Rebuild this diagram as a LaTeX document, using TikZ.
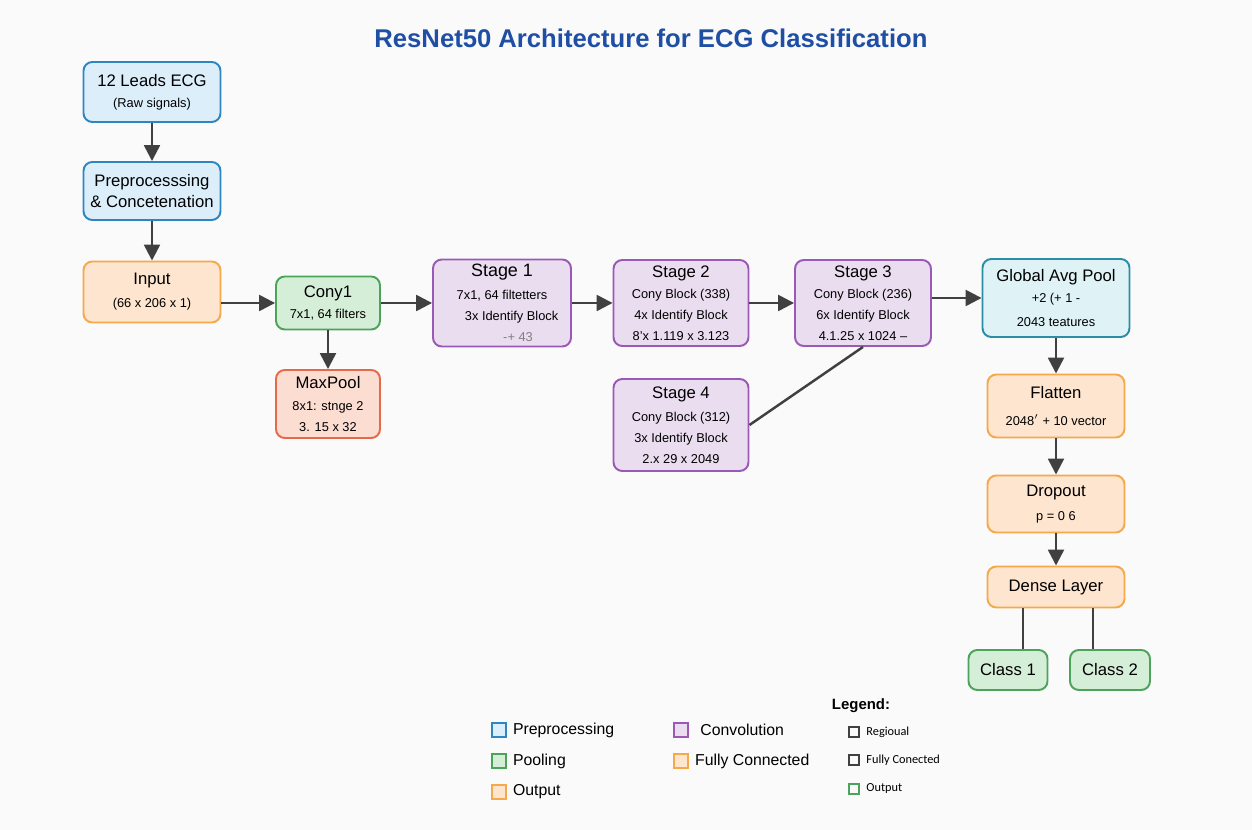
\documentclass[tikz,border=0pt]{standalone}
\usepackage{fontspec}
\setmainfont{Liberation Sans}
\newfontfamily\legfont{Carlito}
\usepackage{tikz}
\usetikzlibrary{arrows.meta, positioning}

\definecolor{prepfill}{HTML}{DDEEFB}
\definecolor{prepline}{HTML}{2E86C1}
\definecolor{outfill}{HTML}{FDE5CF}
\definecolor{outline}{HTML}{F5A94A}
\definecolor{poolfill}{HTML}{D5EED8}
\definecolor{poolline}{HTML}{4CA35A}
\definecolor{maxfill}{HTML}{FCDDD2}
\definecolor{maxline}{HTML}{E8694A}
\definecolor{convfill}{HTML}{EADDF0}
\definecolor{convline}{HTML}{9B59B6}
\definecolor{gapfill}{HTML}{DFF2F5}
\definecolor{gapline}{HTML}{2C8EA5}
\definecolor{titleblue}{HTML}{1F4FA5}
\definecolor{arrowgray}{HTML}{404040}
\definecolor{bgcol}{HTML}{FAFAFA}

\newcommand{\bigtxt}{\fontsize{9.5}{11.5}\selectfont}
\newcommand{\smalltxt}{\fontsize{7.3}{8.6}\selectfont}

\begin{document}
\begin{tikzpicture}[x=0.02cm, y=-0.02cm,
    box/.style = {draw, rounded corners=5pt, line width=1.1pt, align=center, inner sep=2pt},
    prep/.style = {box, fill=prepfill, draw=prepline},
    outp/.style = {box, fill=outfill, draw=outline},
    pool/.style = {box, fill=poolfill, draw=poolline},
    maxp/.style = {box, fill=maxfill, draw=maxline},
    conv/.style = {box, fill=convfill, draw=convline},
    gap/.style = {box, fill=gapfill, draw=gapline},
    conn/.style = {-{Triangle[length=9pt,width=9pt]}, line width=1.4pt, draw=arrowgray},
    link/.style = {line width=1.4pt, draw=arrowgray},
    legbox/.style = {draw, line width=1pt, minimum size=0.28cm, inner sep=0pt},
    smallbox/.style = {draw=arrowgray, line width=1.1pt, minimum size=0.21cm, inner sep=0pt}]

    \fill[bgcol] (0,0) rectangle (1252,830);
    \useasboundingbox (0,0) rectangle (1252,830);

    \node[font=\bfseries\fontsize{14.6}{16}\selectfont, text=titleblue] at (651,38) (title)
        {ResNet50 Architecture for ECG Classification};

    % input side
    \node[prep, minimum width=2.74cm, minimum height=1.2cm] at (152,92) (ecg)
        {\bigtxt 12 Leads ECG\\\smalltxt (Raw signals)};
    \node[prep, minimum width=2.74cm, minimum height=1.16cm] at (152,191) (prep)
        {\bigtxt Preprocesssing\\\bigtxt \& Concetenation};
    \node[outp, minimum width=2.74cm, minimum height=1.22cm] at (152,292) (inp)
        {\bigtxt Input\\[1pt]\smalltxt (66 x 206 x 1)};
    \node[pool, minimum width=2.08cm, minimum height=1.06cm] at (328,303) (conv1)
        {\bigtxt Cony1\\\smalltxt 7x1, 64 filters};
    \node[maxp, minimum width=2.08cm, minimum height=1.36cm] at (328,404) (maxpool)
        {\bigtxt MaxPool\\[1pt]\smalltxt 8x1: stnge 2\\\smalltxt 3. 15 x 32};

    % residual stages
    \node[conv, minimum width=2.76cm, minimum height=1.74cm] at (502,303) (st1)
        {\fontsize{10.2}{12}\selectfont Stage 1\\[1pt]\smalltxt 7x1, 64 filtetters\hspace{1.8em}\\\smalltxt \hspace{1.5em}3x Identify Block\\\smalltxt \hspace{2.5em}\textcolor{gray}{-+ 43}};
    \node[conv, minimum width=2.7cm, minimum height=1.72cm] at (681,303) (st2)
        {\bigtxt Stage 2\\\smalltxt Cony Block (338)\\\smalltxt 4x Identify Block\\\smalltxt 8'x 1.119 x 3.123};
    \node[conv, minimum width=2.72cm, minimum height=1.72cm] at (863,303) (st3)
        {\bigtxt Stage 3\\\smalltxt Cony Block (236)\\\smalltxt 6x Identify Block\\\smalltxt 4.1.25 x 1024 --};
    \node[conv, minimum width=2.7cm, minimum height=1.84cm] at (681,425) (st4)
        {\bigtxt Stage 4\\[1pt]\smalltxt Cony Block (312)\\\smalltxt 3x Identify Block\\\smalltxt 2.x 29 x 2049};

    % classifier head
    \node[gap, minimum width=2.94cm, minimum height=1.56cm] at (1056,298) (gap)
        {\bigtxt Global Avg Pool\\\smalltxt +2 (+ 1 -\\[2pt]\smalltxt 2043 teatures};
    \node[outp, minimum width=2.74cm, minimum height=1.26cm] at (1056,406) (flat)
        {\bigtxt Flatten\\[3pt]\smalltxt 2048$^{\prime}$ + 10 vector};
    \node[outp, minimum width=2.74cm, minimum height=1.14cm] at (1056,504) (drop)
        {\bigtxt Dropout\\[2pt]\smalltxt p = 0 6};
    \node[outp, minimum width=2.74cm, minimum height=0.82cm] at (1056,587) (dense)
        {\bigtxt Dense Layer};
    \node[pool, minimum width=1.58cm, minimum height=0.8cm] at (1008,670) (cls1)
        {\bigtxt Class 1};
    \node[pool, minimum width=1.6cm, minimum height=0.8cm] at (1110,670) (cls2)
        {\bigtxt Class 2};

    \draw[conn] (ecg) -- (prep);
    \draw[conn] (prep) -- (inp);
    \draw[conn] (conv1.west -| inp.east) -- (conv1.west);
    \draw[conn] (conv1) -- (maxpool);
    \draw[conn] (conv1) -- (st1);
    \draw[conn] (st1) -- (st2);
    \draw[conn] (st2) -- (st3);
    \draw[conn] (st3.east |- gap.west) -- (gap.west);
    \draw[link] (st3.south) -- (st4.east);
    \draw[conn] (gap) -- (flat);
    \draw[conn] (flat) -- (drop);
    \draw[conn] (drop) -- (dense);
    \draw[link] ([xshift=-0.66cm]dense.south) -- ([xshift=-0.66cm]dense.south |- cls1.north);
    \draw[link] ([xshift=0.74cm]dense.south) -- ([xshift=0.74cm]dense.south |- cls2.north);

    % legend
    \node[legbox, fill=prepfill, draw=prepline] at (499,730) (lg1) {};
    \node[right=0pt of lg1, font=\fontsize{9}{11}\selectfont] (lt1) {Preprocessing};
    \node[legbox, fill=poolfill, draw=poolline] at (499,761) (lg2) {};
    \node[right=0pt of lg2, font=\fontsize{9}{11}\selectfont] (lt2) {Pooling};
    \node[legbox, fill=outfill, draw=outline] at (499,792) (lg3) {};
    \node[right=0pt of lg3, font=\fontsize{9}{11}\selectfont] (lt3) {Output};
    \node[legbox, fill=convfill, draw=convline] at (681,730) (lg4) {};
    \node[right=3pt of lg4, font=\fontsize{9}{11}\selectfont] (lt4) {Convolution};
    \node[legbox, fill=outfill, draw=outline] at (681,761) (lg5) {};
    \node[right=0pt of lg5, font=\fontsize{9}{11}\selectfont] (lt5) {Fully Connected};

    \node[font=\bfseries\fontsize{8.5}{10}\selectfont] at (861,706) (legtitle) {Legend:};
    \node[smallbox] at (854,732) (sb1) {};
    \node[right=0pt of sb1, font=\legfont\fontsize{7}{8}\selectfont] (st1txt) {Regioual};
    \node[smallbox] at (854,760) (sb2) {};
    \node[right=0pt of sb2, font=\legfont\fontsize{7}{8}\selectfont] (st2txt) {Fully Conected};
    \node[smallbox, draw=poolline] at (854,789) (sb3) {};
    \node[right=0pt of sb3, font=\legfont\fontsize{7}{8}\selectfont] (st3txt) {Output};
\end{tikzpicture}
\end{document}
